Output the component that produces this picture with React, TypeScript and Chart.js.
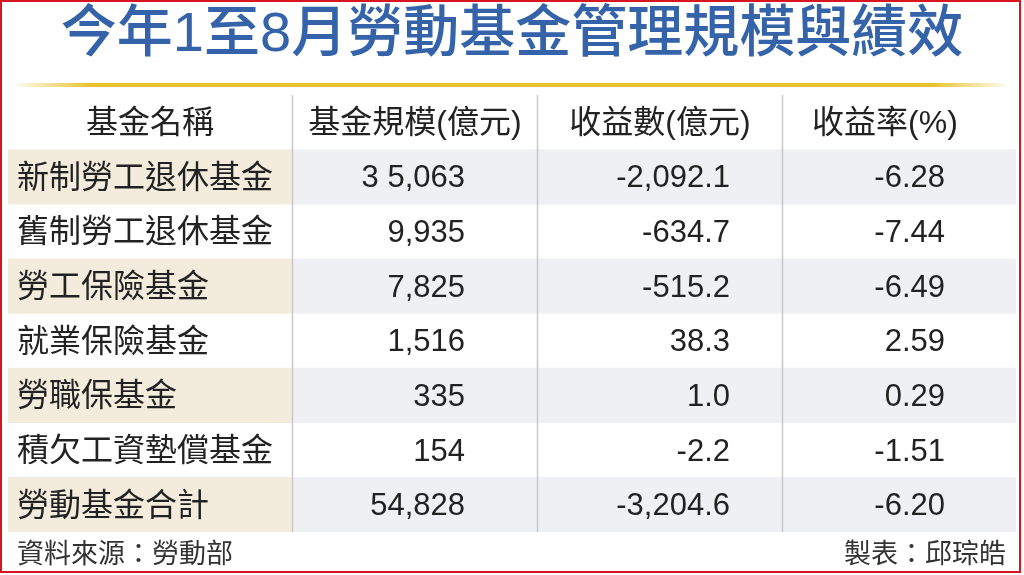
import React, { useEffect, useRef } from "react";
import { Chart, registerables } from "chart.js";

Chart.register(...registerables);

const TITLE = "今年1至8月勞動基金管理規模與績效";
const HEADERS = ["基金名稱", "基金規模(億元)", "收益數(億元)", "收益率(%)"];
const FUND_NAMES = [
  "新制勞工退休基金",
  "舊制勞工退休基金",
  "勞工保險基金",
  "就業保險基金",
  "勞職保基金",
  "積欠工資墊償基金",
  "勞動基金合計",
];
const FUND_SIZE = ["3 5,063", "9,935", "7,825", "1,516", "335", "154", "54,828"];
const FUND_RETURN = ["-2,092.1", "-634.7", "-515.2", "38.3", "1.0", "-2.2", "-3,204.6"];
const FUND_RATE = ["-6.28", "-7.44", "-6.49", "2.59", "0.29", "-1.51", "-6.20"];
const SOURCE = "資料來源：勞動部";
const AUTHOR = "製表：邱琮皓";

const ROW_KEYS = ["header", ...FUND_NAMES];

// layout (x-scale units)
const X_MAX = 1008;
const DIVIDERS = [284, 529, 774];
const NAME_LEFT = 9;
const VALUE_RIGHT = [457, 722, 937];
const HEADER_CENTER = [142, 407, 652, 877];

const FONT = "'Liberation Sans', 'Noto Sans CJK TC', sans-serif";

const tablePlugin = {
  id: "tablePlugin",
  beforeDraw(chart: any) {
    const ctx = chart.ctx;
    ctx.save();
    ctx.fillStyle = "#ffffff";
    ctx.fillRect(0, 0, chart.width, chart.height);
    ctx.restore();
  },
  afterDatasetsDraw(chart: any) {
    const ctx = chart.ctx as CanvasRenderingContext2D;
    const xs = chart.scales.x;
    const ys = chart.scales.y;
    const area = chart.chartArea;
    ctx.save();

    // dividers
    ctx.strokeStyle = "#c8c8c8";
    ctx.lineWidth = 1.5;
    DIVIDERS.forEach((d) => {
      const px = Math.round(xs.getPixelForValue(d)) + 0.5;
      ctx.beginPath();
      ctx.moveTo(px, area.top);
      ctx.lineTo(px, area.bottom);
      ctx.stroke();
    });

    // title
    ctx.fillStyle = "#3463a9";
    ctx.font = `500 56px ${FONT}`;
    ctx.textAlign = "center";
    ctx.textBaseline = "middle";
    ctx.fillText(TITLE, chart.width / 2, 36);

    // gold line
    const g = ctx.createLinearGradient(10, 0, 1012, 0);
    g.addColorStop(0, "rgba(232,195,44,0)");
    g.addColorStop(0.08, "rgba(232,195,44,1)");
    g.addColorStop(0.92, "rgba(232,195,44,1)");
    g.addColorStop(1, "rgba(232,195,44,0)");
    ctx.fillStyle = g;
    ctx.fillRect(10, 83, 1002, 4);

    // header
    ctx.fillStyle = "#222222";
    ctx.font = `32px ${FONT}`;
    ctx.textAlign = "center";
    const hy = ys.getPixelForValue(0) + 2;
    HEADERS.forEach((h, i) => {
      ctx.fillText(h, xs.getPixelForValue(HEADER_CENTER[i]), hy);
    });

    // rows
    FUND_NAMES.forEach((name, i) => {
      const y = ys.getPixelForValue(i + 1) + 2;
      ctx.textAlign = "left";
      ctx.font = `32px ${FONT}`;
      ctx.fillText(name, xs.getPixelForValue(NAME_LEFT), y);
      ctx.textAlign = "right";
      ctx.font = `31px ${FONT}`;
      [FUND_SIZE[i], FUND_RETURN[i], FUND_RATE[i]].forEach((v, j) => {
        ctx.fillText(v, xs.getPixelForValue(VALUE_RIGHT[j]), y);
      });
    });

    // footer
    ctx.fillStyle = "#333333";
    ctx.font = `27px ${FONT}`;
    ctx.textAlign = "left";
    ctx.fillText(SOURCE, 17, 556);
    ctx.textAlign = "right";
    ctx.fillText(AUTHOR, 1006, 556);

    // red frame
    ctx.strokeStyle = "#d9151f";
    ctx.lineWidth = 2;
    ctx.strokeRect(1, 1, 1019, 571);
    ctx.restore();
  },
};

export default function App() {
  const ref = useRef<HTMLCanvasElement | null>(null);
  useEffect(() => {
    if (!ref.current) return;
    const stripe = (a: number, b: number) =>
      ROW_KEYS.map((_, i) => (i > 0 && i % 2 === 1 ? [a, b] : null));
    const chart = new Chart(ref.current, {
      type: "bar",
      data: {
        labels: ROW_KEYS,
        datasets: [
          {
            label: "name",
            data: stripe(0, DIVIDERS[0]) as any,
            backgroundColor: "#f3ecdc",
            categoryPercentage: 1,
            barPercentage: 1,
            grouped: false,
          } as any,
          {
            label: "values",
            data: stripe(DIVIDERS[0], X_MAX) as any,
            backgroundColor: "#eef0f4",
            categoryPercentage: 1,
            barPercentage: 1,
            grouped: false,
          } as any,
        ],
      },
      options: {
        indexAxis: "y",
        animation: false,
        responsive: false,
        maintainAspectRatio: false,
        layout: { padding: { left: 8, right: 8, top: 95, bottom: 43 } },
        scales: {
          x: { type: "linear", min: 0, max: X_MAX, display: false },
          y: { type: "category", offset: true, display: false },
        },
        plugins: {
          legend: { display: false },
          tooltip: { enabled: false },
          title: { display: false },
        },
      },
      plugins: [tablePlugin],
    });
    return () => chart.destroy();
  }, []);
  return (
    <div style={{ position: "fixed", left: 0, top: 0, width: 1024, height: 575, background: "#fff" }}>
      <canvas ref={ref} width={1024} height={575} style={{ width: 1024, height: 575 }} />
    </div>
  );
}
